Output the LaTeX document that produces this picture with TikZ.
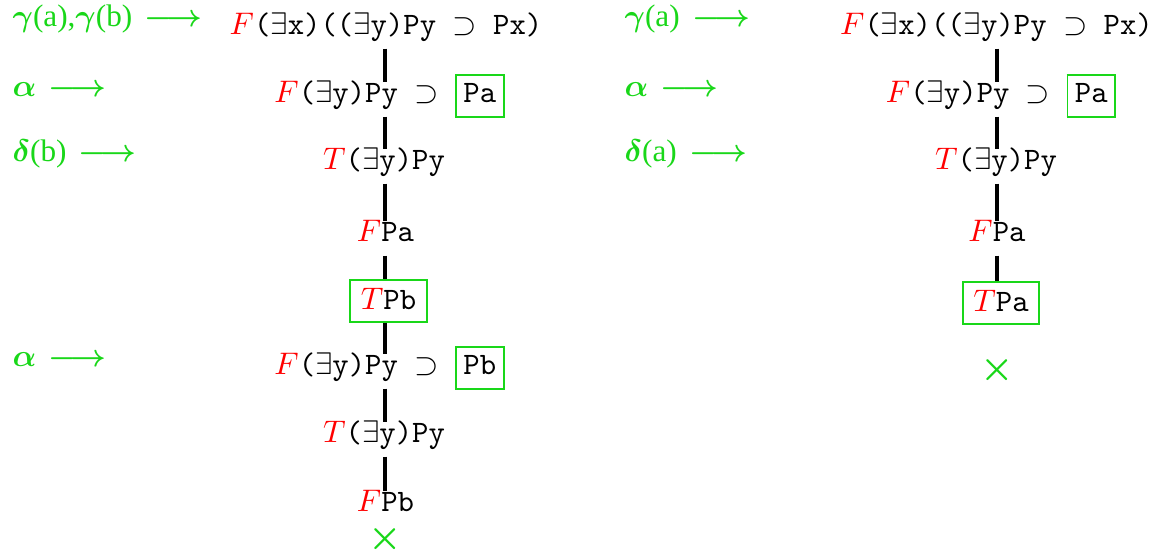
\documentclass[tikz,border=0pt]{standalone}
\usepackage{amsmath,amssymb}
\usepackage{fontspec}
\setmainfont{Liberation Serif}
\usepackage{tikz}
\definecolor{proofgreen}{RGB}{25,215,25}
\setlength{\fboxrule}{0.6pt}
\setlength{\fboxsep}{2.1pt}
\newcommand{\sF}{\textcolor{red}{$F$}}
\newcommand{\sT}{\textcolor{red}{$T$}}
\newcommand{\gbox}[1]{\fcolorbox{proofgreen}{white}{\vphantom{Py}\texttt{#1}}}
\newcommand{\rto}{\hspace{4pt}$\boldsymbol{\longrightarrow}$}

\begin{document}
\begin{tikzpicture}[x=0.3205pt, y=-0.3205pt,
    row/.style={anchor=base, inner sep=0pt, text height=6.4pt, text depth=4.2pt},
    leafrow/.style={row, text depth=0pt},
    boxrow/.style={anchor=base, draw=proofgreen, line width=0.6pt, inner xsep=3.4pt, inner ysep=0pt, text height=9.6pt, text depth=3.8pt},
    lab/.style={anchor=base west, text=proofgreen, inner sep=0pt},
    branch/.style={line width=1pt},
    closed/.style={text=proofgreen, inner sep=0pt, font=\large}]
	\useasboundingbox (0,0) rectangle (1152,550);
	\coordinate (colL) at (385,0);
	\coordinate (colR) at (997,0);

	% left tableau
	\node [lab] (gL) at (12,27) {$\boldsymbol{\gamma}$(a),$\boldsymbol{\gamma}$(b)\rto};
	\node [lab] (aL) at (12,97) {$\boldsymbol{\alpha}$\rto};
	\node [lab] (dL) at (12,162) {$\boldsymbol{\delta}$(b)\rto};
	\node [lab] (aL2) at (12,367) {$\boldsymbol{\alpha}$\rto};

	\node [row] (l1) at (386,35) {\sF\texttt{($\exists$x)(($\exists$y)Py $\supset$ Px)}};
	\node [row] (l2) at (389.5,103) {\sF\texttt{($\exists$y)Py $\supset$ }\gbox{Pa}};
	\node [row] (l3) at (384,170) {\sT\texttt{($\exists$y)Py}};
	\node [row] (l4) at (385.5,242) {\sF\texttt{Pa}};
	\node [boxrow] (l5) at (388.5,310) {\sT\texttt{Pb}};
	\node [row] (l6) at (389.5,375) {\sF\texttt{($\exists$y)Py $\supset$ }\gbox{Pb}};
	\node [row] (l7) at (384,443) {\sT\texttt{($\exists$y)Py}};
	\node [leafrow] (l8) at (385.5,512) {\sF\texttt{Pb}};
	\node [closed] (xL) at (385,539) {$\boldsymbol{\times}$};
	\foreach \a/\b in {l1/l2, l2/l3, l3/l4, l4/l5, l5/l6, l6/l7, l7/l8}
		\draw [branch] (\a.south -| colL) -- (\b.north -| colL);

	% right tableau
	\node [lab] (gR) at (624,27) {$\boldsymbol{\gamma}$(a)\rto};
	\node [lab] (aR) at (624,97) {$\boldsymbol{\alpha}$\rto};
	\node [lab] (dR) at (624,162) {$\boldsymbol{\delta}$(a)\rto};

	\node [row] (r1) at (996.5,35) {\sF\texttt{($\exists$x)(($\exists$y)Py $\supset$ Px)}};
	\node [row] (r2) at (1001,103) {\sF\texttt{($\exists$y)Py $\supset$ }\gbox{Pa}};
	\node [row] (r3) at (996,170) {\sT\texttt{($\exists$y)Py}};
	\node [row] (r4) at (997,242) {\sF\texttt{Pa}};
	\node [boxrow] (r5) at (1001,312) {\sT\texttt{Pa}};
	\node [closed] (xR) at (997,370) {$\boldsymbol{\times}$};
	\foreach \a/\b in {r1/r2, r2/r3, r3/r4, r4/r5}
		\draw [branch] (\a.south -| colR) -- (\b.north -| colR);
\end{tikzpicture}
\end{document}
